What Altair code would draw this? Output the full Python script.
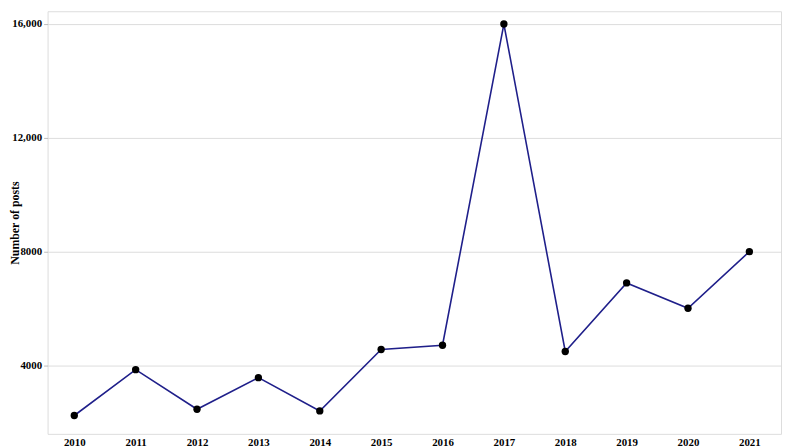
import altair as alt
import pandas as pd

years = [2010, 2011, 2012, 2013, 2014, 2015, 2016, 2017, 2018, 2019, 2020, 2021]
posts = [2240, 3850, 2460, 3570, 2400, 4560, 4710, 16000, 4490, 6900, 6010, 8000]
y_ticks = [4000, 8000, 12000, 16000]

df = pd.DataFrame({"year": years, "posts": posts})

font = "Liberation Serif"

x = alt.X("year:Q",
          scale=alt.Scale(domain=[2009.565, 2021.516], nice=False, zero=False),
          axis=alt.Axis(values=years, format="d", title=None, grid=False,
                        ticks=False, labelPadding=3, domain=False,
                        labelFont=font, labelFontWeight="bold", labelFontSize=11,
                        labelColor="black"))
y = alt.Y("posts:Q",
          scale=alt.Scale(domain=[1594, 16450], nice=False, zero=False),
          axis=alt.Axis(values=y_ticks, title="Number of posts",
                        labelExpr="datum.value >= 10000 ? format(datum.value, ',') : format(datum.value, 'd')",
                        grid=True, gridColor="#dddddd", gridWidth=1,
                        tickColor="#bbbbbb", tickSize=4, domain=False,
                        labelFont=font, labelFontWeight="bold", labelFontSize=11,
                        labelColor="black", labelPadding=2,
                        titleFont=font, titleFontWeight="bold", titleFontSize=12,
                        titleColor="black", titleX=-26, titleY=213.5,
                        titleAngle=270, titleAlign="center", titleBaseline="bottom"))

line = alt.Chart(df).mark_line(color="#1f1f8a", strokeWidth=1.6).encode(x=x, y=y)
pts = alt.Chart(df).mark_circle(color="black", opacity=1, size=55).encode(x=x, y=y)

chart = (line + pts).properties(
    width=741, height=427,
    autosize=alt.AutoSizeParams(type="none"),
    padding={"left": 40, "top": 1, "right": 3, "bottom": 11},
).configure_view(stroke="#aaaaaa", strokeWidth=1.5).configure(background="white")

chart.save("out.html", embed_options={"renderer": "svg", "actions": False})
